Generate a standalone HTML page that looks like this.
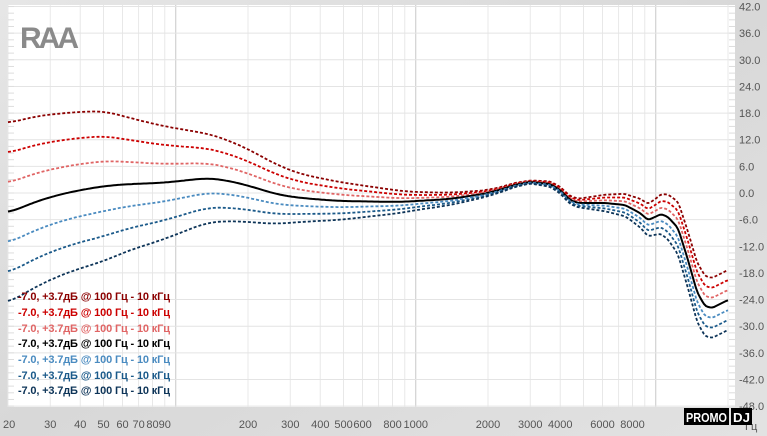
<!DOCTYPE html>
<html><head><meta charset="utf-8"><style>
body{margin:0;width:767px;height:436px;overflow:hidden;background:#dedede;font-family:"Liberation Sans",sans-serif}
</style></head><body>
<svg id="s" width="767" height="436" xmlns="http://www.w3.org/2000/svg" style="position:absolute;left:0;top:0">
<defs><linearGradient id="bg" x1="0" y1="0" x2="1" y2="1"><stop offset="0" stop-color="#e6e6e6"/><stop offset="0.5" stop-color="#d8d8d8"/><stop offset="1" stop-color="#e2e2e2"/></linearGradient></defs>
<rect width="767" height="436" fill="url(#bg)"/>
<rect x="8" y="5" width="727" height="402" fill="#fff"/>
<g id="grid"></g>
<g id="curves" fill="none"></g>
<g font-size="11" fill="#555" id="lab"></g>
<text x="20" y="48" font-size="30" font-weight="bold" fill="#8a8a8a" font-family="Liberation Sans" letter-spacing="-3">RAA</text>
<g font-size="11" font-weight="bold" font-family="Liberation Sans">
<text x="18" y="300" fill="#8b0000" textLength="152">-7.0, +3.7дБ @ 100 Гц - 10 кГц</text>
<text x="18" y="316" fill="#cc0000" textLength="152">-7.0, +3.7дБ @ 100 Гц - 10 кГц</text>
<text x="18" y="332" fill="#e06565" textLength="152">-7.0, +3.7дБ @ 100 Гц - 10 кГц</text>
<text x="18" y="347" fill="#000" textLength="152">-7.0, +3.7дБ @ 100 Гц - 10 кГц</text>
<text x="18" y="363" fill="#4a8bc0" textLength="152">-7.0, +3.7дБ @ 100 Гц - 10 кГц</text>
<text x="18" y="379" fill="#1b5a8a" textLength="152">-7.0, +3.7дБ @ 100 Гц - 10 кГц</text>
<text x="18" y="394" fill="#0d3458" textLength="152">-7.0, +3.7дБ @ 100 Гц - 10 кГц</text>
</g>
<rect x="684" y="408" width="45" height="17" fill="#000"/>
<rect x="731" y="408" width="21" height="17" fill="#000"/>
<text x="686" y="422" font-size="13" font-weight="bold" fill="#fff" textLength="41" lengthAdjust="spacingAndGlyphs">PROMO</text>
<text x="733" y="422" font-size="13" font-weight="bold" fill="#fff" textLength="17" lengthAdjust="spacingAndGlyphs">DJ</text>
</svg>
<script>
var NS="http://www.w3.org/2000/svg";
function el(p,t,a,txt){var e=document.createElementNS(NS,t);for(var k in a)e.setAttribute(k,a[k]);if(txt!=null)e.textContent=txt;p.appendChild(e);return e;}
function X(f){return 8+240*Math.log10(f/20);}
function Y(d){return 193-d*4.44;}
var g=document.getElementById('grid'),lab=document.getElementById('lab');
for(var dec=10;dec<=10000;dec*=10){for(var m=1;m<10;m++){var f=dec*m;if(f<20||f>22000)continue;var x=X(f);
el(g,'line',{x1:x,y1:5,x2:x,y2:407,stroke:(m==1?'#c8c8c8':'#e8e8e8'),'stroke-width':1});}}
for(var d=42;d>=-48;d-=6){var y=Y(d);el(g,'line',{x1:8,y1:y,x2:735,y2:y,stroke:'#e4e4e4'});
el(lab,'text',{x:739,y:y+4},d.toFixed(1));}
for(var d=42;d>=-48;d-=1.5){var y=Y(d);el(g,'line',{x1:8,y1:y,x2:14,y2:y,stroke:'#ddd'});el(g,'line',{x1:729,y1:y,x2:735,y2:y,stroke:'#ddd'});}
var xl=[[20,"20"],[30,"30"],[40,"40"],[50,"50"],[60,"60"],[70,"70"],[80,"80"],[90,"90"],[200,"200"],[300,"300"],[400,"400"],[500,"500"],[600,"600"],[800,"800"],[1000,"1000"],[2000,"2000"],[3000,"3000"],[4000,"4000"],[6000,"6000"],[8000,"8000"]];
xl.forEach(function(a){var x=X(a[0]);var w=a[1].length*6.1;var xx=x-w/2;if(a[0]==20)xx=3;el(lab,'text',{x:xx,y:428},a[1]);});
el(lab,'text',{x:745,y:430},'Гц');
var B=[[8,213],[40,200],[70,192],[104,186],[130,184],[160,183],[190,180],[205,178],[225,180],[250,186],[275,194],[300,198],[340,201],[400,202],[450,199],[490,193],[515,185],[530,182],[550,184],[560,190],[570,200],[578,203],[590,203],[605,203],[625,205],[640,213],[648,220],[655,217],[661,214],[668,217],[678,228],[688,260],[697,292],[705,306],[712,308],[720,304],[728,300]];
var S=[[8,30],[60,27],[104,25],[130,22],[205,15],[250,12],[300,8],[416,3],[489,1],[530,0.5],[580,1.5],[630,4],[656,6],[680,9],[700,10],[728,10]];
function interp(arr,x){for(var i=0;i<arr.length-1;i++){if(x<=arr[i+1][0]){var t=(x-arr[i][0])/(arr[i+1][0]-arr[i][0]);return arr[i][1]+t*(arr[i+1][1]-arr[i][1]);}}return arr[arr.length-1][1];}
var cols=[[-3,'#8b0000'],[-2,'#cc0000'],[-1,'#e06565'],[0,'#000'],[1,'#4a8bc0'],[2,'#1b5a8a'],[3,'#0d3458']];
var cg=document.getElementById('curves');
cols.forEach(function(c){var xs=[],ys=[];for(var x=8;x<=728;x+=1){xs.push(x);ys.push(interp(B,x)+c[0]*interp(S,x));}
var sm=[];for(var i=0;i<ys.length;i++){var r=xs[i]<500?14:(xs[i]<640?3:2);var s=0,n=0;for(var j=i-r;j<=i+r;j++){var k=Math.min(Math.max(j,0),ys.length-1);s+=ys[k];n++;}sm.push(s/n);}
var pts=[];for(var i=0;i<xs.length;i+=2){var y=Math.min(Math.max(sm[i],5),407);pts.push(xs[i]+','+y.toFixed(1));}
var a={points:pts.join(' '),stroke:c[1],'stroke-width':c[0]==0?2:1.8};if(c[0]!=0)a['stroke-dasharray']='3,2';el(cg,'polyline',a);});
</script>
</body></html>
